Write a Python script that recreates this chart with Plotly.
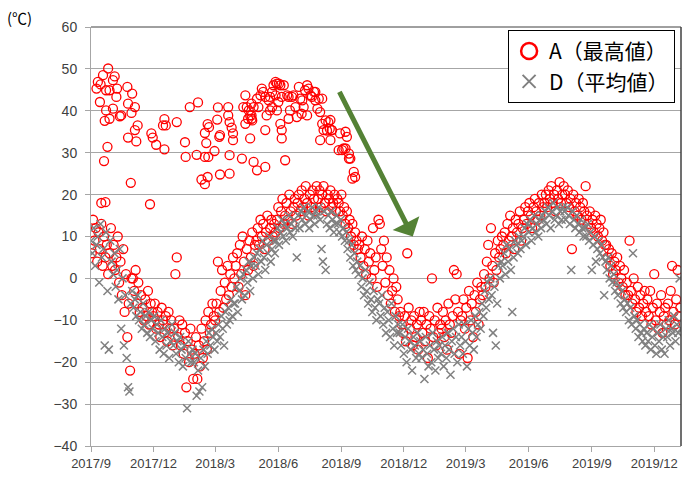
import pandas as pd
import plotly.graph_objects as go

START = pd.Timestamp("2017-09-01")
X_END = "2020-01-09"

tick_dates = ["2017-09-01", "2017-12-01", "2018-03-01", "2018-06-01", "2018-09-01",
              "2018-12-01", "2019-03-01", "2019-06-01", "2019-09-01", "2019-12-01"]
tick_labels = ["2017/9", "2017/12", "2018/3", "2018/6", "2018/9",
               "2018/12", "2019/3", "2019/6", "2019/9", "2019/12"]

# ---- D (mean), one reading every 2 days from 2017-09-01 ----
d_q1 = [9, 6, 12, 3, 8, 10, -1, 13, 5, 7, -16, 11, -3, -17, 9,
        4, 1, 6, -2, 2, -5, 7, -12, 0, -16, -4, -19, -26, -27, -6,
        -3, -7, -5, -9, -4, -10, -8, -12, -6, -11, -9, -13, -8, -14, -10]
d_q2 = [-12, -9, -15, -11, -13, -17, -10, -14, -18, -12, -16, -13, -19, -15, -11,
        -16, -13, -18, -15, -20, -14, -17, -21, -16, -19, -31, -15, -18, -20, -17,
        -20, -18, -28, -22, -27, -19, -26, -17, -21, -15, -18, -13, -16, -12, -14]
d_q3 = [-17, -13, -15, -11, -14, -9, -12, -16, -8, -11, -7, -10, -5, -9, -6,
        -6, -2, -8, -3, 0, -5, 1, -4, 2, -1, 4, -3, 3, 0, 5,
        3, 6, 1, 7, 4, 9, 5, 2, 8, 6, 10, 4, 7, 9, 6]
d_q4 = [9, 12, 8, 11, 14, 10, 13, 9, 12, 15, 11, 13, 10, 14, 12,
        5, 15, 12, 16, 14, 17, 13, 15, 16, 12, 14, 17, 15, 13, 16,
        15, 17, 14, 7, 4, 16, 2, 13, 15, 12, 16, 14, 11, 13, 15]
d_q5 = [13, 11, 14, 10, 12, 9, 11, 7, 9, 5, 8, 3, 6, 2, 4,
        1, 3, -2, 0, -4, 2, -3, -6, -1, -5, -8, -3, -7, -10, -5,
        -6, -9, -4, -11, -7, -13, -8, -10, -14, -6, -12, -16, -9, -13, -11]
d_q6 = [-13, -16, -11, -18, -14, -20, -12, -15, -17, -22, -14, -16, -19, -13, -18,
        -15, -19, -17, -24, -14, -18, -21, -16, -20, -13, -17, -22, -15, -19, -16,
        -18, -14, -21, -16, -19, -13, -17, -23, -15, -12, -18, -14, -20, -11, -16]
d_q7 = [-14, -18, -11, -15, -21, -12, -16, -10, -13, -17, -9, -14, -11, -8, -12,
        -6, -9, -3, -7, -1, -5, 0, -4, -13, -2, -16, -6, 3, 0, 4,
        3, 6, 1, 8, 4, 7, 2, -8, 5, 9, 8, 6, 10, 7, 9]
d_q8 = [10, 12, 8, 13, 11, 14, 9, 12, 15, 11, 13, 10, 14, 12, 15,
        14, 16, 13, 17, 15, 12, 16, 18, 14, 15, 17, 13, 16, 14, 17,
        16, 14, 17, 15, 13, 2, 16, 14, 12, 15, 13, 11, 14, 12, 10]
d_q9 = [12, 10, 13, 9, 11, 2, 8, 10, 4, 7, 9, 6, 8, 5, -4,
        4, 2, 5, 0, 3, -1, 1, -3, -1, -4, -2, -6, -3, -7, -5,
        -8, -6, -10, -7, -11, 6, -9, -12, -10, -14, -11, -13, -15, -12, -16]
d_q10 = [-13, -15, -11, -17, -14, -12, -16, -18, -13, -15, -11, -17, -14, -18, -12,
         -14, -10, -16, -12, -13, -9, -15, -11, -13, 0, -12]

# ---- A (max), readings every 2 days (odd days) ----
a_q1 = [6, 14, 9, 12, 4, 11, 7, 13, 3, 10, 5, 8, 1, 6, 12,
        3, 8, 2, 5, 10, -1, 4, -4, 7, -8, 1, -14, -6, -22, 0,
        0, -3, 2, -6, -1, -8, -4, -7, -10, -5, -9, -3, -11, -6, -8]
a_q2 = [-9, -6, -12, -8, -11, -14, -7, -10, -13, -9, -15, -8, -12, -10, -16,
        -12, 1, 5, -14, -10, -16, -11, -18, -13, -26, -15, -20, -12, -17, -24,
        -18, -14, -24, -16, -21, -12, -19, -15, -10, -17, -8, -13, -11, -6, -9]
a_q3 = [-10, -6, 4, -8, -3, 2, -7, -1, -5, 3, -4, 1, -2, 5, 0,
        3, 6, -2, 8, 1, 10, 4, -4, 7, 2, 9, 5, 11, 3, 8,
        9, 12, 8, 14, 10, 13, 7, 11, 15, 9, 12, 14, 10, 13, 11]
a_q4 = [14, 17, 12, 16, 19, 13, 15, 18, 14, 20, 16, 13, 17, 19, 15,
        18, 20, 16, 21, 17, 19, 22, 18, 15, 20, 17, 21, 19, 16, 22,
        19, 21, 17, 20, 22, 18, 16, 20, 19, 21, 17, 18, 20, 16, 19]
a_q5 = [18, 16, 20, 15, 17, 13, 16, 12, 14, 10, 13, 8, 11, 9, 7,
        8, 5, 10, 3, 7, 1, 9, 4, 6, 0, 12, 2, 5, -2, 14,
        13, 7, 3, 9, -1, 5, -4, 2, -6, -3, 0, -8, -2, -5, -9]
a_q6 = [-8, -11, -13, -9, -15, 6, -7, -12, -10, -16, -9, -14, -11, -17, -8,
        -10, -13, -8, -15, -11, -19, -9, -12, 0, -14, -10, -16, -7, -13, -11,
        -12, -8, -14, -10, -17, -6, -11, -13, -9, 2, -5, 1, -8, -18, -10]
a_q7 = [-9, -5, -12, -7, -19, -3, -10, -6, -14, -4, -8, -1, -11, -5, -2,
        -4, 1, -2, 4, 8, 0, 12, 3, -1, 6, 2, 9, 5, 7, 10,
        8, 11, 6, 13, 9, 15, 10, 12, 7, 14, 11, 13, 16, 9, 12]
a_q8 = [14, 17, 13, 16, 18, 15, 12, 17, 19, 16, 14, 18, 15, 20, 17,
        18, 20, 17, 21, 19, 22, 18, 20, 16, 21, 19, 23, 18, 20, 22,
        20, 18, 21, 17, 19, 7, 20, 16, 18, 15, 19, 17, 14, 18, 16]
a_q9 = [22, 15, 13, 16, 12, 14, 11, 15, 13, 10, 12, 14, 9, 11, 8,
        8, 5, 7, 3, 6, 1, 4, 2, 5, -1, 3, 0, -2, 2, -4,
        -1, -4, 9, -3, -6, 0, -5, -8, -2, -7, -4, -9, -6, -3, -8]
a_q10 = [-5, -9, -3, -11, -7, 1, -10, -6, -12, -8, -4, -13, -9, -7, -11,
         -6, -10, -3, 3, -8, -11, -5, 2, -9, -7]

# ---- A (max) high readings during the first year (day offset, value) ----
a_hi_day = [25, 17.5, 34.5, 10, 14, 8, 32, 22, 27, 38, 53, 60, 37, 13, 54, 64, 22, 32,
            44, 42, 59, 20, 27, 68, 64, 54, 66, 24, 19, 58, 15, 21, 86, 88, 90, 95, 107,
            107, 105, 109, 125, 144, 156, 137, 138, 154, 166, 170, 172, 168, 171, 166,
            161, 166, 170, 185, 184, 188, 187, 180, 200, 200, 202, 205, 207, 207, 202,
            202, 188,
            225, 222, 230, 237, 234, 225, 234, 242, 249, 247, 254, 244, 259, 261, 256,
            254, 266, 271, 276, 264, 269, 273, 278, 264, 271, 276, 278, 283, 288, 295,
            303, 305, 310, 315, 317, 320, 325, 327, 330, 332, 334, 315, 307, 300, 288,
            290, 337, 342, 346, 339, 351, 334, 349, 363, 371, 373, 366, 371, 376, 376,
            220, 242, 254, 237,
            227, 234, 229, 232, 235, 251, 261, 269, 274, 281, 286, 293, 298, 308, 312,
            322, 327, 337, 344, 348, 361, 368, 378, 383, 381, 385, 349, 351, 232, 278]
a_hi_val = [50.1, 48.5, 48.2, 46.9, 46.3, 45.3, 47.3, 44.9, 44.9, 45.3, 45.7, 44.1, 43.3,
            42.1, 41.7, 40.9, 40.1, 40.5, 38.9, 38.7, 39.5, 37.6, 38.1, 36.5, 35.4, 33.6,
            32.7, 31.4, 28, 22.8, 18, 18.2, 17.7, 34.6, 33.6, 31.9, 30.8, 38, 36.5, 36.5,
            37.3, 40.9, 42, 32.5, 29, 29.5, 34.7, 36.8, 36.1, 32.3, 29, 29, 23.6, 22.5,
            24.2, 40.8, 37.9, 34.2, 33.8, 30.4, 40.9, 38.9, 37.3, 36, 34.6, 33, 29.4, 25,
            24.8,
            43.7, 40.9, 40.1, 40.9, 38.9, 36.9, 38.1, 42.9, 45.3, 43.7, 43.3, 40.9, 42.5,
            40.1, 38.9, 35.4, 46.1, 46.5, 46.1, 44.5, 43.7, 42.1, 43.3, 40.9, 40.1, 36.9,
            33.4, 28.2, 43.3, 43.7, 45.7, 42.9, 40.9, 46.1, 45.3, 43.7, 44.5, 42.5, 40.5,
            42.9, 39.7, 38.9, 39.3, 38.5, 38.1, 40.1, 36.9, 37.7, 37.3, 35.4, 35.4, 33,
            33, 34.6, 35, 33.8, 30.6, 31, 29.8, 28.6,
            28.6, 25.8, 26.6, 27.8,
            40.9, 41.7, 38.1, 38.9, 37.7, 44.5, 43.3, 46.9, 46.5, 46.1, 43.7, 43.3, 40.9,
            42.5, 44.9, 43.3, 44.5, 42.9, 35.3, 35.7, 30.6, 31, 28.6, 25.4, 23.8, 24.2,
            37.8, 35.4, 33.4, 35.4]

d_vals = d_q1 + d_q2 + d_q3 + d_q4 + d_q5 + d_q6 + d_q7 + d_q8 + d_q9 + d_q10
a_vals = a_q1 + a_q2 + a_q3 + a_q4 + a_q5 + a_q6 + a_q7 + a_q8 + a_q9 + a_q10


def to_dates(days):
    return [START + pd.Timedelta(days=float(d)) for d in days]


d_x = to_dates([2 * i for i in range(len(d_vals))])
a_x = to_dates([2 * i + 1 for i in range(len(a_vals))])
a_hi_x = to_dates(a_hi_day)

RED = "#FF0000"
GRAY = "#808080"
GRID = "#A6A6A6"

fig = go.Figure()

# A (max)
fig.add_trace(go.Scatter(
    x=list(a_hi_x) + list(a_x), y=a_hi_val + a_vals, mode="markers", showlegend=False,
    marker=dict(symbol="circle-open", size=9, color=RED, line=dict(width=1.3, color=RED))))
# D (mean)
fig.add_trace(go.Scatter(
    x=d_x, y=d_vals, mode="markers", showlegend=False,
    marker=dict(symbol="x-thin-open", size=8, color=GRAY, line=dict(width=1.5, color=GRAY))))

# legend entries
fig.add_trace(go.Scatter(
    x=[None], y=[None], mode="markers", name="A（最高値）",
    marker=dict(symbol="circle-open", size=16, color=RED, line=dict(width=2.5, color=RED))))
fig.add_trace(go.Scatter(
    x=[None], y=[None], mode="markers", name="D（平均値）",
    marker=dict(symbol="x-thin-open", size=13, color=GRAY, line=dict(width=2, color=GRAY))))

# green arrow (tail -> head)
ARROW_TAIL = (361, 44.9)
ARROW_HEAD = (469, 10.0)
fig.add_annotation(
    x=to_dates([ARROW_HEAD[0]])[0], y=ARROW_HEAD[1],
    ax=to_dates([ARROW_TAIL[0]])[0], ay=ARROW_TAIL[1],
    xref="x", yref="y", axref="x", ayref="y", text="", showarrow=True,
    arrowhead=1, arrowsize=1.0, arrowwidth=5, arrowcolor="#548235", standoff=0)

fig.add_annotation(
    x=-0.145, y=1.022, xref="paper", yref="paper", text="(℃)", showarrow=False,
    xanchor="left", yanchor="middle",
    font=dict(family="Noto Sans CJK JP", size=15, color="#000000"))

# dark top and right border
fig.add_shape(type="line", xref="paper", yref="paper", x0=0, x1=1, y0=1, y1=1,
              line=dict(color="#404040", width=1))
fig.add_shape(type="line", xref="paper", yref="paper", x0=1, x1=1, y0=0, y1=1,
              line=dict(color="#404040", width=1.5))

fig.update_layout(
    width=685, height=477, autosize=False,
    margin=dict(l=91, r=4, t=27, b=31),
    plot_bgcolor="white", paper_bgcolor="white",
    font=dict(family="Liberation Sans, Arial, sans-serif", color="#404040"),
    legend=dict(x=0.99, y=0.993, xanchor="right", yanchor="top",
                bgcolor="white", bordercolor="#000000", borderwidth=1,
                font=dict(family="Noto Sans CJK JP", size=21, color="#000000"),
                tracegroupgap=0, itemwidth=30),
    xaxis=dict(type="date", range=[START.strftime("%Y-%m-%d"), X_END],
               tickvals=tick_dates, ticktext=tick_labels,
               showgrid=False, zeroline=False, showline=True, linecolor=GRID,
               ticks="outside", ticklen=5, tickcolor=GRID,
               tickfont=dict(size=13, color="#404040")),
    yaxis=dict(range=[-40, 60], dtick=10, tick0=0, showgrid=True, gridcolor=GRID,
               gridwidth=1, zeroline=False, showline=True, linecolor=GRID,
               ticks="outside", ticklen=5, tickcolor=GRID, ticklabelstandoff=5,
               tickfont=dict(size=14, color="#404040")),
)

fig.write_html(
    "out.html",
    config={"displayModeBar": False},
    post_script="document.body.style.margin='0';document.body.style.overflow='hidden';")
